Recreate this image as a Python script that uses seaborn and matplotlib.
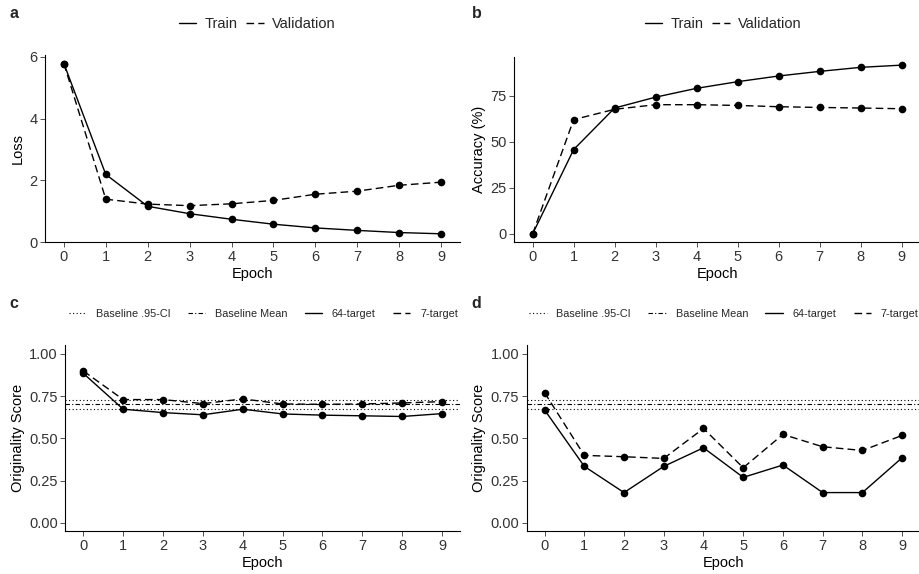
import numpy as np
import pandas as pd
import matplotlib
matplotlib.use("Agg")
import matplotlib.pyplot as plt
from matplotlib.lines import Line2D
import seaborn as sns

# values
epochs = list(range(10))
loss_train = [5.78, 2.19, 1.16, 0.92, 0.74, 0.58, 0.46, 0.38, 0.31, 0.27]
loss_val = [5.78, 1.39, 1.23, 1.18, 1.24, 1.35, 1.55, 1.65, 1.84, 1.94]
acc_train = [0.0, 45.8, 68.4, 74.3, 79.1, 82.7, 85.8, 88.3, 90.5, 91.7]
acc_val = [0.0, 62.1, 67.7, 70.2, 70.2, 69.8, 69.1, 68.7, 68.4, 68.0]
orig_c_64 = [0.884, 0.672, 0.652, 0.639, 0.672, 0.644, 0.637, 0.633, 0.629, 0.646]
orig_c_7 = [0.898, 0.729, 0.729, 0.705, 0.733, 0.703, 0.701, 0.703, 0.709, 0.717]
orig_d_64 = [0.668, 0.334, 0.179, 0.334, 0.444, 0.269, 0.342, 0.179, 0.179, 0.385]
orig_d_7 = [0.770, 0.399, 0.391, 0.381, 0.558, 0.326, 0.523, 0.450, 0.428, 0.517]
baseline_mean = 0.70
baseline_ci = [0.674, 0.727]

sns.set_style("ticks")
plt.rcParams['font.family'] = ['Liberation Sans', 'DejaVu Sans']

DASHED = (5.5, 3)
DOTTED = (1, 2.2)
DOTDASH = (4, 2, 1, 2)
TXT = '#333333'

fig = plt.figure(figsize=(9.2, 5.74), dpi=100)

def make_df(a, b, names):
    return pd.DataFrame({
        'Epoch': epochs * 2,
        'value': a + b,
        'series': [names[0]] * len(a) + [names[1]] * len(b),
    })

def style_axes(ax, ylabel, ylim):
    ax.set_xlim(-0.45, 9.45)
    ax.set_ylim(*ylim)
    ax.set_xticks(epochs)
    ax.set_xlabel('Epoch', fontsize=10.5, color='black', labelpad=2)
    ax.set_ylabel(ylabel, fontsize=10.5, color='black', labelpad=3)
    ax.tick_params(axis='both', labelsize=10.5, labelcolor=TXT, length=3.5,
                   width=0.6, color='#333333', pad=2)
    sns.despine(ax=ax)
    for s in ['left', 'bottom']:
        ax.spines[s].set_linewidth(0.8)
        ax.spines[s].set_color('black')
    ax.grid(False)

def pad(vals_a, vals_b):
    lo = min(vals_a + vals_b)
    hi = max(vals_a + vals_b)
    r = hi - lo
    return (lo - 0.05 * r, hi + 0.05 * r)

def draw(ax, df, names):
    sns.lineplot(data=df, x='Epoch', y='value', style='series',
                 style_order=names,
                 markers={names[0]: 'o', names[1]: 'o'},
                 dashes={names[0]: '', names[1]: DASHED},
                 color='black', linewidth=1.0, markersize=5.5,
                 markeredgecolor='black', markeredgewidth=0,
                 legend=False, ax=ax)

# panel a
ax_a = fig.add_axes([45 / 920, 1 - 242.3 / 574, 415 / 920, 187.3 / 574])
draw(ax_a, make_df(loss_train, loss_val, ['Train', 'Validation']), ['Train', 'Validation'])
style_axes(ax_a, 'Loss', pad(loss_train, loss_val))
ax_a.set_yticks([0, 2, 4, 6])

# panel b
ax_b = fig.add_axes([514.2 / 920, 1 - 242.3 / 574, 405.8 / 920, 185.6 / 574])
draw(ax_b, make_df(acc_train, acc_val, ['Train', 'Validation']), ['Train', 'Validation'])
style_axes(ax_b, 'Accuracy (%)', pad(acc_train, acc_val))
ax_b.set_yticks([0, 25, 50, 75])

# panels c and d
ax_c = fig.add_axes([65.4 / 920, 1 - 531.3 / 574, 394.6 / 920, 186 / 574])
ax_d = fig.add_axes([526.7 / 920, 1 - 531.3 / 574, 393.3 / 920, 186 / 574])
for ax, s64, s7 in [(ax_c, orig_c_64, orig_c_7), (ax_d, orig_d_64, orig_d_7)]:
    for v in baseline_ci:
        ax.axhline(v, color='black', lw=0.8, linestyle=(0, DOTTED))
    ax.axhline(baseline_mean, color='black', lw=0.8, linestyle=(0, DOTDASH))
    draw(ax, make_df(s64, s7, ['64-target', '7-target']), ['64-target', '7-target'])
    style_axes(ax, 'Originality Score', (-0.05, 1.05))
    ax.set_yticks([0, 0.25, 0.5, 0.75, 1.0])
    ax.set_yticklabels(['0.00', '0.25', '0.50', '0.75', '1.00'])

# legends
tv_handles = [Line2D([], [], color='black', lw=1.0),
              Line2D([], [], color='black', lw=1.0, linestyle=(0, DASHED))]
for ax, cx in [(ax_a, 257), (ax_b, 723)]:
    ax.legend(tv_handles, ['Train', 'Validation'], loc='center',
              bbox_to_anchor=(cx / 920, 1 - 24 / 574), bbox_transform=fig.transFigure,
              ncol=2, frameon=False, fontsize=10.5, handlelength=1.2,
              handletextpad=0.55, columnspacing=0.6)

orig_handles = [Line2D([], [], color='black', lw=0.8, linestyle=(0, DOTTED)),
                Line2D([], [], color='black', lw=0.8, linestyle=(0, DOTDASH)),
                Line2D([], [], color='black', lw=1.0),
                Line2D([], [], color='black', lw=1.0, linestyle=(0, DASHED))]
orig_labels = ['Baseline .95-CI', 'Baseline Mean', '64-target', '7-target']
for ax, cx in [(ax_c, 263.5), (ax_d, 724)]:
    ax.legend(orig_handles, orig_labels, loc='center',
              bbox_to_anchor=(cx / 920, 1 - 313.7 / 574), bbox_transform=fig.transFigure,
              ncol=4, frameon=False, fontsize=7.8, handlelength=1.6,
              handletextpad=0.9, columnspacing=1.6)

# panel letters
for lbl, x, y in [('a', 9.5, 13.5), ('b', 471.5, 13.5), ('c', 9.5, 303), ('d', 471.5, 303)]:
    fig.text(x / 920, 1 - y / 574, lbl, fontsize=11.5, fontweight='bold',
             ha='left', va='center')

fig.savefig('out.png', dpi=100)
